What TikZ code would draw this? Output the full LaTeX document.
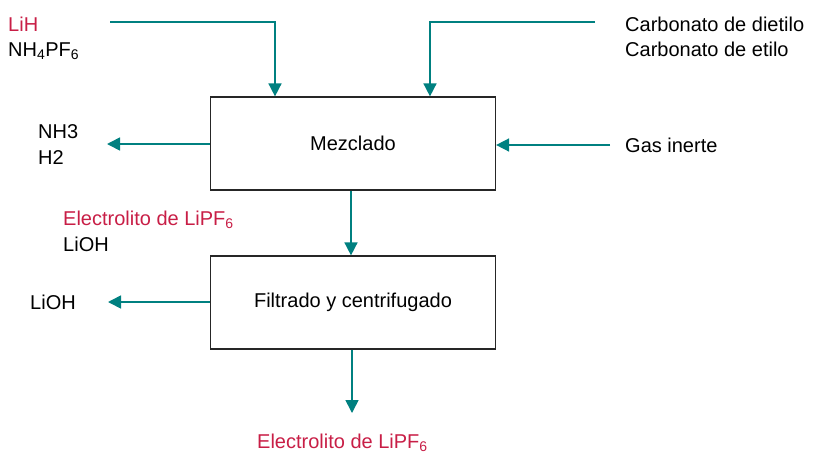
\documentclass[tikz,border=0pt]{standalone}
\usepackage{fontspec}
\setmainfont{Liberation Sans}
\usetikzlibrary{arrows.meta}
\definecolor{teal1}{RGB}{0,128,128}
\definecolor{crim}{RGB}{200,30,70}
\begin{document}
\begin{tikzpicture}[x=1pt,y=-1pt,
  proc/.style={draw=black!85,line width=1.2pt,minimum width=285pt,minimum height=93pt,inner sep=0pt,font=\fontsize{20}{24}\selectfont},
  lbl/.style={anchor=base west,inner sep=0pt,font=\fontsize{20}{24}\selectfont},
  red/.style={text=crim},
  flow/.style={draw=teal1,line width=1.6pt,-{Triangle[length=13pt,width=13pt]}}]
\useasboundingbox (0,0) rectangle (814,451);
\node[proc] (mez) at (353,143.5) {Mezclado};
\node[proc] (fil) at (353,302.5) {Filtrado y centrifugado};
% labels
\node[lbl,red] (lih) at (8,31) {LiH};
\node[lbl] (nh4) at (8,56) {NH\textsubscript{4}PF\textsubscript{6}};
\node[lbl] (cd1) at (625,31) {Carbonato de dietilo};
\node[lbl] (cd2) at (625,56) {Carbonato de etilo};
\node[lbl] (gas) at (625,152) {Gas inerte};
\node[lbl] (nh3) at (38,138) {NH3};
\node[lbl] (h2) at (38,164) {H2};
\node[lbl,red] (el1) at (63,225) {Electrolito de LiPF\textsubscript{6}};
\node[lbl] (lioh1) at (63,251) {LiOH};
\node[lbl] (lioh2) at (30,309) {LiOH};
\node[lbl,red] (el2) at (257,448) {Electrolito de LiPF\textsubscript{6}};
% coordinates
\coordinate (s1) at (110,22);
\coordinate (s2) at (595,22);
\coordinate (s3) at (610,145);
\coordinate (e1) at (107,144);
\coordinate (e2) at (108,302);
\coordinate (e3) at (352,413);
% connectors
\draw[flow] (s1) -| (mez.north -| 275,0);
\draw[flow] (s2) -| (mez.north -| 430,0);
\draw[flow] (s3) -- (mez.east |- s3);
\draw[flow] (mez.west |- e1) -- (e1);
\draw[flow] (mez.south -| 351,0) -- (fil.north -| 351,0);
\draw[flow] (fil.west |- e2) -- (e2);
\draw[flow] (fil.south -| e3) -- (e3);
\end{tikzpicture}
\end{document}
